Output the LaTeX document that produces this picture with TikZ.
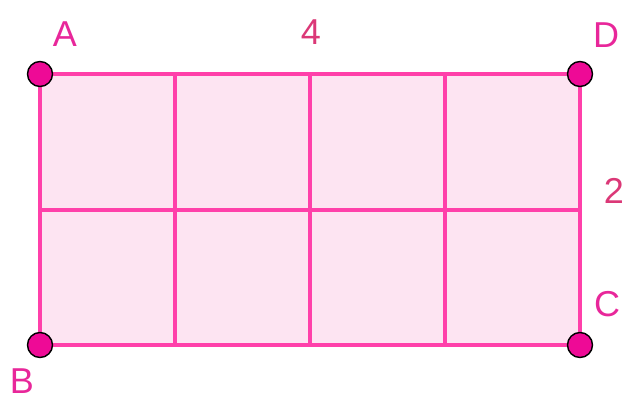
\documentclass[tikz,border=0pt]{standalone}
\usepackage{fontspec}
\setmainfont{Liberation Sans}
\definecolor{gridpink}{HTML}{FF40AA}
\definecolor{fillpink}{HTML}{FDE4F2}
\definecolor{ptpink}{HTML}{EE0A96}
\definecolor{lblpink}{HTML}{E8279A}
\definecolor{numpink}{HTML}{DB3877}
\begin{document}
\begin{tikzpicture}[x=1pt,y=-1pt,
  gridline/.style={draw=gridpink,line width=3.6pt},
  vertex/.style={circle,fill=ptpink,draw=black,line width=1.4pt,minimum size=25pt,inner sep=0pt},
  lbl/.style={text=lblpink,font=\fontsize{36}{36}\selectfont,inner sep=0pt},
  num/.style={text=numpink,font=\fontsize{36}{36}\selectfont,inner sep=0pt}]
\useasboundingbox (0,0) rectangle (625,396);
\fill[fillpink] (40,74) rectangle (580,345);
\foreach \x in {175,310,445} \draw[gridline] (\x,74) -- (\x,345);
\draw[gridline] (40,210) -- (580,210);
\draw[gridline] (40,74) rectangle (580,345);
\node[vertex] (A) at (40,74) {};
\node[vertex] (D) at (580,74) {};
\node[vertex] (B) at (40,345) {};
\node[vertex] (C) at (580,345) {};
\node[lbl] (lA) at (65,34) {A};
\node[lbl] (lD) at (606,35) {D};
\node[lbl] (lB) at (22,381) {B};
\node[lbl] (lC) at (607,304) {C};
\node[num] (n4) at (311,32) {4};
\node[num] (n2) at (614,191) {2};
\end{tikzpicture}
\end{document}
